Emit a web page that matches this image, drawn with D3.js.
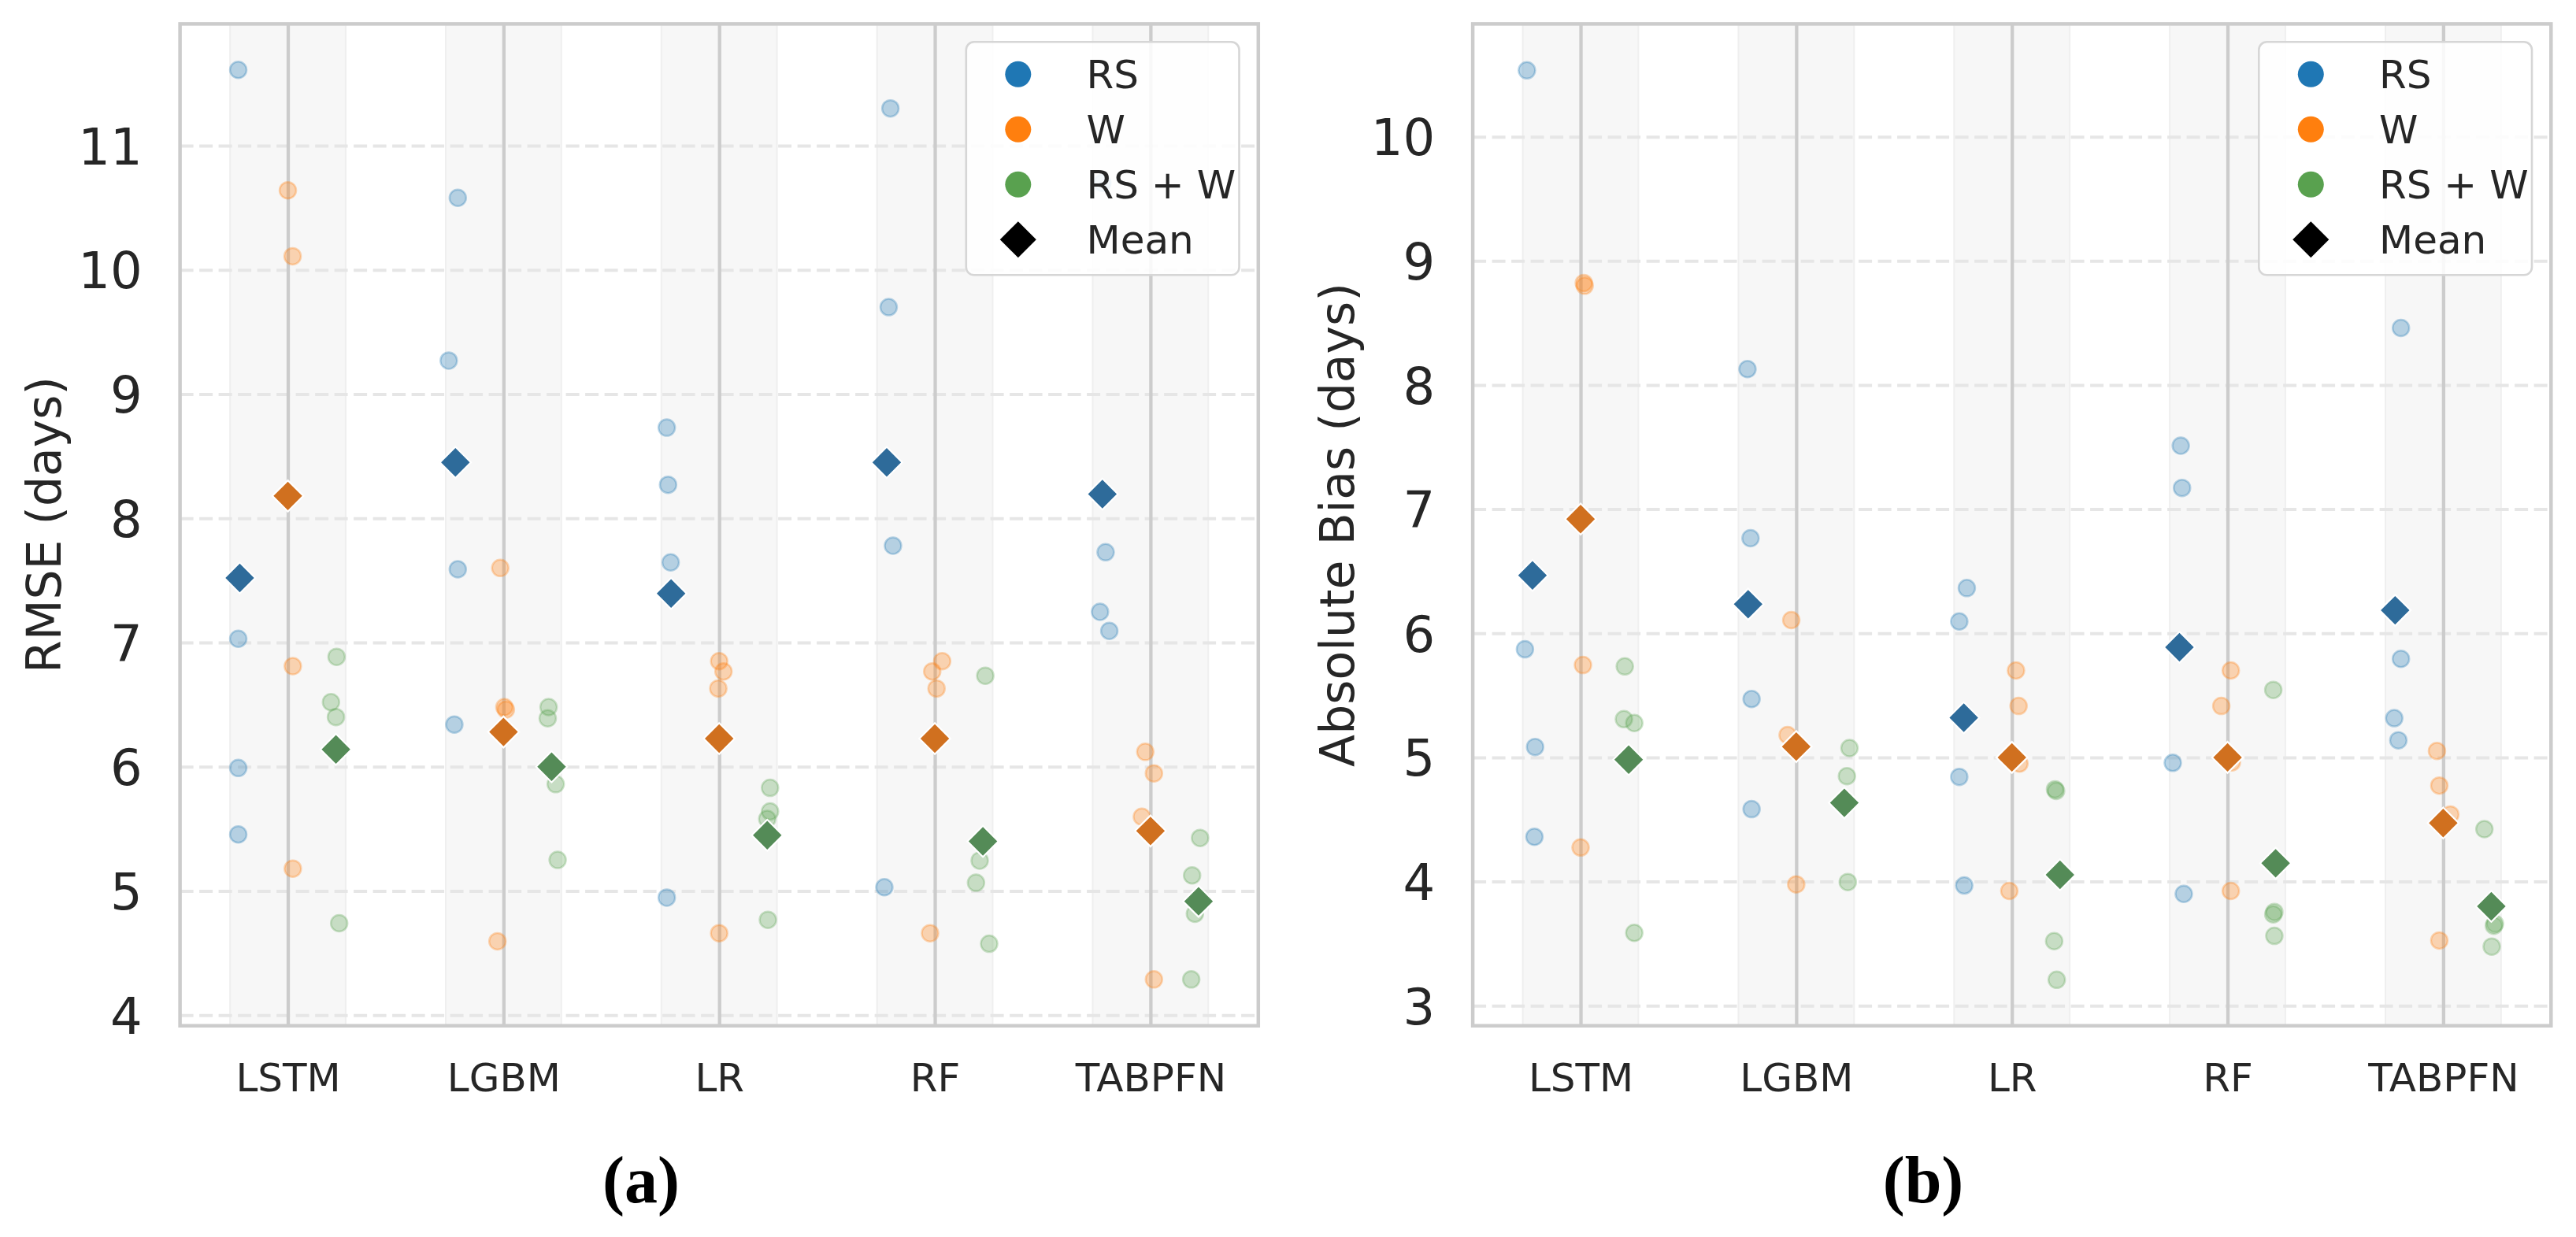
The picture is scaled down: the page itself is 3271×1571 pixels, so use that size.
<!DOCTYPE html>
<html>
<head>
<meta charset="utf-8">
<script src="https://cdn.jsdelivr.net/npm/d3@7"></script>
<style>
  body { margin: 0; background: #fff; }
  svg text { font-family: "DejaVu Sans", sans-serif; fill: #262626; }
  svg text.caption { font-family: "Liberation Serif", "DejaVu Serif", serif; font-weight: bold; fill: #000; }
</style>
</head>
<body>
<script>

// ---- data ----

var models = ["LSTM", "LGBM", "LR", "RF", "TABPFN"];
var featureSets = ["RS", "W", "RS + W"];

// (a) RMSE, 4 runs per model
var rmseRS  = [[11.61, 7.03, 5.99, 5.455], [10.58, 9.27, 7.59, 6.34], [8.73, 8.27, 7.645, 4.947], [11.30, 9.70, 7.78, 5.03], [10.70, 7.727, 7.247, 7.094]];
var rmseW   = [[10.64, 10.11, 6.81, 5.18], [7.60, 6.48, 6.46, 4.595], [6.85, 6.767, 6.63, 4.66], [6.85, 6.767, 6.63, 4.66], [6.12, 5.947, 5.598, 4.288]];
var rmseRSW = [[6.885, 6.52, 6.40, 4.74], [6.48, 6.39, 5.86, 5.25], [5.83, 5.64, 5.58, 4.768], [6.733, 5.245, 5.066, 4.575], [5.427, 5.125, 4.816, 4.288]];
var rmseMeanRS  = [7.52, 8.45, 7.395, 8.45, 8.195];
var rmseMeanW   = [8.18, 6.28, 6.227, 6.227, 5.483];
var rmseMeanRSW = [6.14, 6.00, 5.449, 5.40, 4.917];
var rmseTicks = [4, 5, 6, 7, 8, 9, 10, 11];

// (b) absolute bias, 4 runs per model
var biasRS  = [[10.535, 5.871, 5.084, 4.36], [8.128, 6.766, 5.47, 4.583], [6.364, 6.095, 4.843, 3.968], [7.511, 7.171, 4.956, 3.90], [8.46, 5.794, 5.316, 5.138]];
var biasW   = [[8.822, 8.80, 5.744, 4.274], [6.106, 5.18, 5.09, 3.977], [5.70, 5.414, 4.95, 3.924], [5.70, 5.414, 4.96, 3.924], [5.052, 4.773, 4.54, 3.525]];
var biasRSW = [[5.733, 5.308, 5.277, 3.586], [5.075, 4.849, 4.616, 3.996], [4.743, 4.73, 3.52, 3.208], [5.544, 3.755, 3.735, 3.562], [4.422, 3.66, 3.644, 3.476]];
var biasMeanRS  = [6.466, 6.234, 5.32, 5.887, 6.185];
var biasMeanW   = [6.92, 5.087, 5.0, 5.0, 4.471];
var biasMeanRSW = [4.982, 4.634, 4.054, 4.147, 3.80];
var biasTicks = [3, 4, 5, 6, 7, 8, 9, 10];

// strip jitter of each run, in category units (as seen in the figure)
var jitRmseRS  = [[-0.007, -0.007, -0.007, -0.007], [0.011, -0.031, 0.011, -0.005], [-0.02, -0.014, -0.002, -0.02], [0.017, 0.009, 0.029, -0.011], [0, 0.015, -0.011, 0.032]];
var jitRmseW   = [[0, 0.022, 0.023, 0.023], [-0.015, 0.004, 0.011, -0.028], [0, 0.02, -0.004, 0], [0.034, -0.012, 0.008, -0.022], [-0.024, 0.016, -0.04, 0.016]];
var jitRmseRSW = [[0.003, -0.023, 0, 0.015], [-0.014, -0.018, 0.019, 0.028], [0.013, 0.013, 0, 0.003], [0.011, -0.015, -0.032, 0.029], [0.007, -0.03, -0.017, -0.034]];
var jitBiasRS  = [[-0.026, -0.035, 0.012, 0.009], [-0.003, 0.011, 0.016, 0.016], [0.014, -0.021, -0.021, 0.002], [0.006, 0.012, -0.031, 0.02], [0.027, 0.027, -0.004, 0.015]];
var jitBiasW   = [[0.015, 0.019, 0.011, 0], [-0.023, -0.04, 0.014, 0], [0.019, 0.031, 0.035, -0.012], [0.015, -0.029, 0.02, 0.015], [-0.029, -0.018, 0.033, -0.018]];
var jitBiasRSW = [[-0.018, -0.022, 0.026, 0.026], [0.024, 0.012, 0, 0.016], [-0.023, -0.018, -0.027, -0.015], [-0.011, -0.006, -0.011, -0.006], [-0.032, 0.017, 0.012, 0.002]];

// ---- styling ----

var palette = ["#1f77b4", "#ff7f0e", "#59a14f"];
var meanColors = ["#2e6b9a", "#d0701f", "#548b57"];
var dodge = [-0.223, 0, 0.223];

var width = 3271, height = 1571;
var plotTop = 30.4, plotBottom = 1302.7, panelW = 1369.2;

var svg = d3.select("body")
	.append("svg")
		.attr("width", width)
		.attr("height", height);

svg.append("rect")
		.attr("width", width)
		.attr("height", height)
		.attr("fill", "#fff");

// draws one panel
function panel (cfg) {

	var left = cfg.left, right = left + panelW;

	var x = d3.scaleLinear().domain([-0.5, 4.5]).range([left, right]);
	var y = d3.scaleLinear().domain(cfg.yDomain).range([plotBottom, plotTop]);

	var g = svg.append("g");

	// shaded band behind each model
	g.selectAll(".band")
		.data(models)
		.join("rect")
			.attr("x", function (d, i) { return x(i - 0.268); })
			.attr("width", x(0.268) - x(-0.268))
			.attr("y", plotTop)
			.attr("height", plotBottom - plotTop)
			.attr("fill", "#f7f7f7")
			.attr("stroke", "#efefef")
			.attr("stroke-width", 2);

	// dashed horizontal grid
	g.append("g")
			.attr("transform", "translate(" + left + ",0)")
			.call(d3.axisLeft(y).tickValues(cfg.ticks).tickSize(-(right - left)).tickFormat(""))
		.call(function (a) {
			a.select(".domain").remove();
			a.selectAll("line")
				.attr("stroke", "#e6e6e6")
				.attr("stroke-width", 4)
				.attr("stroke-dasharray", "17,7.5");
		});

	// solid vertical line at each model
	g.append("g")
			.attr("transform", "translate(0," + plotBottom + ")")
			.call(d3.axisBottom(x).tickValues(d3.range(models.length)).tickSize(-(plotBottom - plotTop)).tickFormat(""))
		.call(function (a) {
			a.select(".domain").remove();
			a.selectAll("line")
				.attr("stroke", "#cccccc")
				.attr("stroke-width", 4.3);
		});

	// frame
	g.append("rect")
			.attr("x", left)
			.attr("y", plotTop)
			.attr("width", right - left)
			.attr("height", plotBottom - plotTop)
			.attr("fill", "none")
			.attr("stroke", "#cccccc")
			.attr("stroke-width", 4.5);

	// individual runs
	cfg.series.forEach(function (vals, s) {
		var pts = [];
		vals.forEach(function (runs, m) {
			runs.forEach(function (v, j) {
				pts.push({ m: m, v: v, jit: cfg.jitter[s][m][j] });
			});
		});
		g.append("g").selectAll("circle")
			.data(pts)
			.join("circle")
				.attr("cx", function (d) { return x(d.m + dodge[s] + d.jit); })
				.attr("cy", function (d) { return y(d.v); })
				.attr("r", 10.5)
				.attr("fill", palette[s])
				.attr("fill-opacity", 0.3)
				.attr("stroke", palette[s])
				.attr("stroke-opacity", 0.3)
				.attr("stroke-width", 2.5);
	});

	// means
	var diamond = d3.symbol().type(d3.symbolSquare).size(780);
	cfg.means.forEach(function (vals, s) {
		g.append("g").selectAll("path")
			.data(vals)
			.join("path")
				.attr("d", diamond)
				.attr("transform", function (d, m) {
					return "translate(" + x(m + dodge[s]) + "," + y(d) + ") rotate(45)";
				})
				.attr("fill", meanColors[s])
				.attr("stroke", "#fff")
				.attr("stroke-width", 2.2);
	});

	// y tick labels
	g.append("g")
			.attr("transform", "translate(" + left + ",0)")
			.call(d3.axisLeft(y).tickValues(cfg.ticks).tickSize(0).tickPadding(48).tickFormat(d3.format("d")))
		.call(function (a) {
			a.select(".domain").remove();
			a.selectAll("text")
				.attr("font-size", 64)
				.attr("dy", "0.36em")
				.attr("fill", "#262626");
		});

	// x tick labels
	g.append("g")
			.attr("transform", "translate(0," + plotBottom + ")")
			.call(d3.axisBottom(x).tickValues(d3.range(models.length)).tickSize(0).tickPadding(48)
				.tickFormat(function (i) { return models[i]; }))
		.call(function (a) {
			a.select(".domain").remove();
			a.selectAll("text")
				.attr("font-size", 50)
				.attr("fill", "#262626");
		});

	// y label
	g.append("text")
			.attr("transform", "translate(" + (left - 151.5) + "," + ((plotTop + plotBottom) / 2) + ") rotate(-90)")
			.attr("text-anchor", "middle")
			.attr("font-size", 60)
			.text(cfg.label);

	// legend
	var lx = right - 24.3 - 346.7, ly = 53.3;
	var legend = g.append("g").attr("transform", "translate(" + lx + "," + ly + ")");
	legend.append("rect")
			.attr("width", 346.7)
			.attr("height", 296)
			.attr("rx", 10)
			.attr("fill", "#fff")
			.attr("fill-opacity", 0.85)
			.attr("stroke", "#d6d6d6")
			.attr("stroke-width", 2.6);
	var rows = featureSets.concat(["Mean"]);
	rows.forEach(function (name, i) {
		var ry = 41 + i * 70;
		if (i < 3) {
			legend.append("circle")
					.attr("cx", 66)
					.attr("cy", ry)
					.attr("r", 16.5)
					.attr("fill", palette[i]);
		} else {
			legend.append("path")
					.attr("d", d3.symbol().type(d3.symbolSquare).size(1060))
					.attr("transform", "translate(66," + ry + ") rotate(45)")
					.attr("fill", "#000");
		}
		legend.append("text")
				.attr("x", 152.7)
				.attr("y", ry + 18)
				.attr("font-size", 50)
				.text(name);
	});

	// sub-caption
	svg.append("text")
			.attr("class", "caption")
			.attr("x", cfg.captionX)
			.attr("y", 1527)
			.attr("text-anchor", "middle")
			.attr("font-size", 84)
			.text(cfg.caption);
}

panel({
	left: 228.6,
	yDomain: [3.915, 11.98],
	ticks: rmseTicks,
	series: [rmseRS, rmseW, rmseRSW],
	jitter: [jitRmseRS, jitRmseW, jitRmseRSW],
	means: [rmseMeanRS, rmseMeanW, rmseMeanRSW],
	label: "RMSE (days)",
	caption: "(a)",
	captionX: 814
});

panel({
	left: 1870.1,
	yDomain: [2.838, 10.909],
	ticks: biasTicks,
	series: [biasRS, biasW, biasRSW],
	jitter: [jitBiasRS, jitBiasW, jitBiasRSW],
	means: [biasMeanRS, biasMeanW, biasMeanRSW],
	label: "Absolute Bias (days)",
	caption: "(b)",
	captionX: 2442
});

</script>
</body>
</html>
